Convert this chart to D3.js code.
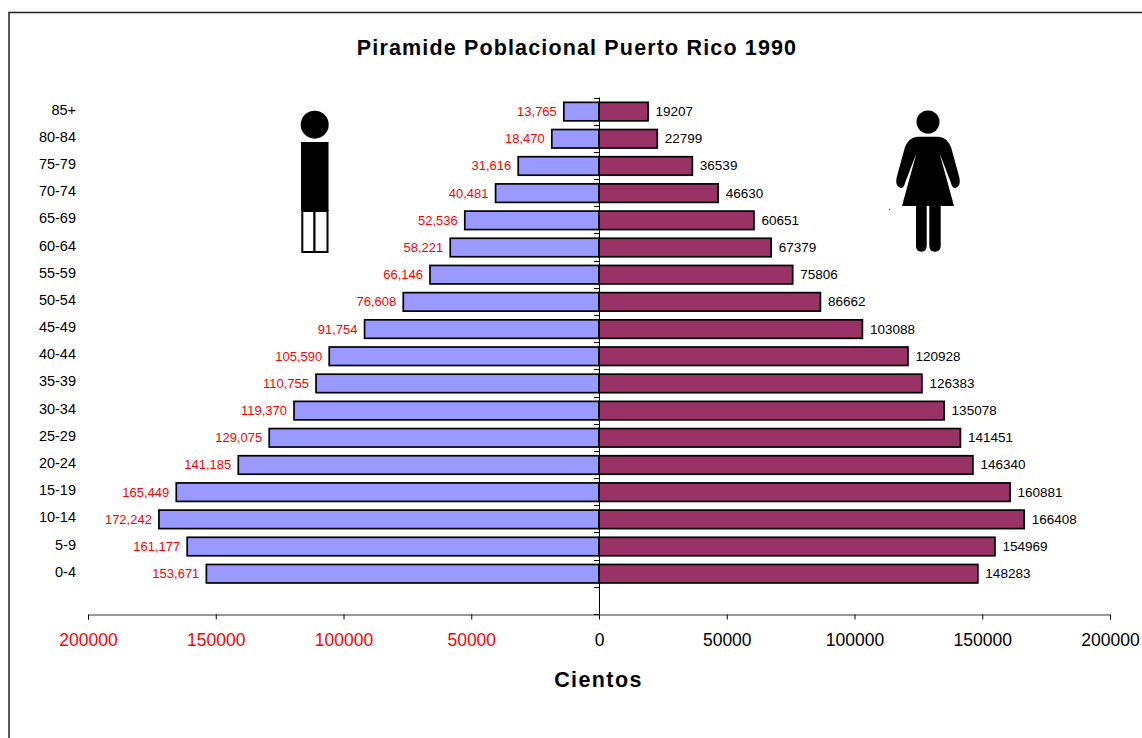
<!DOCTYPE html>
<html>
<head>
<meta charset="utf-8">
<script src="https://cdn.jsdelivr.net/npm/d3@7"></script>
<style>
html, body { margin: 0; padding: 0; background: #fff; overflow: hidden; }
text { font-family: "Liberation Sans", Arial, sans-serif; }
</style>
</head>
<body>
<div id="chart"></div>
<script>
var ages = ["85+", "80-84", "75-79", "70-74", "65-69", "60-64", "55-59", "50-54", "45-49",
    "40-44", "35-39", "30-34", "25-29", "20-24", "15-19", "10-14", "5-9", "0-4"];
var men = [13765, 18470, 31616, 40481, 52536, 58221, 66146, 76608, 91754,
    105590, 110755, 119370, 129075, 141185, 165449, 172242, 161177, 153671];
var women = [19207, 22799, 36539, 46630, 60651, 67379, 75806, 86662, 103088,
    120928, 126383, 135078, 141451, 146340, 160881, 166408, 154969, 148283];
var xTicks = [-200000, -150000, -100000, -50000, 0, 50000, 100000, 150000, 200000];
var chartTitle = "Piramide Poblacional Puerto Rico 1990";
var xTitle = "Cientos";

var svg = d3.select("#chart").append("svg")
    .attr("width", 1142)
    .attr("height", 738)
    .style("display", "block");

// frame runs off the right and bottom of the picture
svg.append("rect")
    .attr("x", 9)
    .attr("y", 12.5)
    .attr("width", 1150)
    .attr("height", 750)
    .attr("fill", "#fff")
    .attr("stroke", "#222")
    .attr("stroke-width", 1.5);

var x = d3.scaleLinear().domain([-200000, 200000]).range([88, 1110]);
// one empty band at the bottom, as in the original sheet
var y = d3.scaleBand().domain(ages.concat([" "])).range([98, 614.5]).paddingInner(0.32).paddingOuter(0.16);

var rows = ages.map(function (a, i) { return { age: a, m: men[i], w: women[i] }; });

var bars = svg.append("g");
bars.selectAll(".men").data(rows).enter().append("rect")
    .attr("class", "men")
    .attr("x", function (d) { return x(-d.m); })
    .attr("y", function (d) { return y(d.age); })
    .attr("width", function (d) { return x(0) - x(-d.m); })
    .attr("height", y.bandwidth())
    .attr("fill", "#9999ff")
    .attr("stroke", "#000")
    .attr("stroke-width", 1.7);
bars.selectAll(".women").data(rows).enter().append("rect")
    .attr("class", "women")
    .attr("x", x(0))
    .attr("y", function (d) { return y(d.age); })
    .attr("width", function (d) { return x(d.w) - x(0); })
    .attr("height", y.bandwidth())
    .attr("fill", "#993366")
    .attr("stroke", "#000")
    .attr("stroke-width", 1.7);

// value labels
svg.append("g").selectAll("text").data(rows).enter().append("text")
    .attr("x", function (d) { return x(-d.m) - 7; })
    .attr("y", function (d) { return y(d.age) + y.bandwidth() / 2 + 4.5; })
    .attr("text-anchor", "end")
    .attr("fill", "#ff0000")
    .style("font-size", "13px")
    .text(function (d) { return d3.format(",")(d.m); });
svg.append("g").selectAll("text").data(rows).enter().append("text")
    .attr("x", function (d) { return x(d.w) + 7.5; })
    .attr("y", function (d) { return y(d.age) + y.bandwidth() / 2 + 4.5; })
    .attr("fill", "#000")
    .style("font-size", "13.5px")
    .text(function (d) { return d.w; });

// age labels
svg.append("g").selectAll("text").data(rows).enter().append("text")
    .attr("x", 76)
    .attr("y", function (d) { return y(d.age) + y.bandwidth() / 2 + 3; })
    .attr("text-anchor", "end")
    .attr("fill", "#000")
    .style("font-size", "14.5px")
    .text(function (d) { return d.age; });

// axes
var xAxis = svg.append("g")
    .attr("transform", "translate(0,614.5)")
    .call(d3.axisBottom(x).tickValues(xTicks).tickSize(5).tickPadding(14)
        .tickFormat(function (d) { return Math.abs(d); }));
xAxis.select(".domain").attr("stroke", "#333");
xAxis.selectAll("text")
    .style("font-size", "17.5px")
    .style("font-family", '"Liberation Sans", Arial, sans-serif')
    .attr("fill", function (d) { return d < 0 ? "#ff0000" : "#000"; });

var yTicks = d3.range(20).map(function (i) { return 97.5 + i * (614 - 97.5) / 19; });
var yAxis = svg.append("g");
yAxis.append("line")
    .attr("x1", x(0) + 0.5).attr("x2", x(0) + 0.5)
    .attr("y1", 97.5).attr("y2", 614)
    .attr("stroke", "#000");
yAxis.selectAll(".tick").data(yTicks).enter().append("line")
    .attr("class", "tick")
    .attr("x1", x(0) - 5).attr("x2", x(0))
    .attr("y1", function (d) { return Math.round(d) + 0.5; })
    .attr("y2", function (d) { return Math.round(d) + 0.5; })
    .attr("stroke", "#000");

// titles
svg.append("text")
    .attr("x", 577)
    .attr("y", 55)
    .attr("text-anchor", "middle")
    .style("font-size", "21.5px")
    .style("font-weight", "bold")
    .style("letter-spacing", "1.15px")
    .text(chartTitle);
svg.append("text")
    .attr("x", 598.5)
    .attr("y", 686.5)
    .attr("text-anchor", "middle")
    .style("font-size", "21.5px")
    .style("font-weight", "bold")
    .style("letter-spacing", "1.4px")
    .text(xTitle);

// man icon
var man = svg.append("g");
man.append("circle").attr("cx", 314.7).attr("cy", 124.7).attr("r", 14).attr("fill", "#000");
man.append("rect").attr("x", 301).attr("y", 142).attr("width", 27.5).attr("height", 69).attr("fill", "#000");
man.append("rect").attr("x", 302.3).attr("y", 211).attr("width", 12.2).attr("height", 41)
    .attr("fill", "#fff").attr("stroke", "#000").attr("stroke-width", 2);
man.append("rect").attr("x", 314.5).attr("y", 211).attr("width", 13).attr("height", 41)
    .attr("fill", "#fff").attr("stroke", "#000").attr("stroke-width", 2);

// woman icon
var woman = svg.append("g");
woman.append("circle").attr("cx", 928).attr("cy", 122).attr("r", 11.5).attr("fill", "#000");
woman.append("path")
    .attr("fill", "#000")
    .attr("d", "M917,136.7 L939,136.7 Q947,137.5 951,147 L959.5,178 Q961,187 955,188 Q952,188 951,183 L939.5,153 " +
        "L954,206 L940.7,206 L940.7,246 Q940.7,251.7 935,251.7 Q929.3,251.7 929.3,246 L929.3,206 L926.7,206 L926.7,246 " +
        "Q926.7,251.7 921.3,251.7 Q916,251.7 916,246 L916,206 L902,206 L916.5,153 L905,183 Q904,188 901,188 " +
        "Q895,187 896.5,178 L905,147 Q909,137.5 917,136.7 Z");
svg.append("rect").attr("x", 889).attr("y", 209).attr("width", 1).attr("height", 1).attr("fill", "#555");
</script>
</body>
</html>
